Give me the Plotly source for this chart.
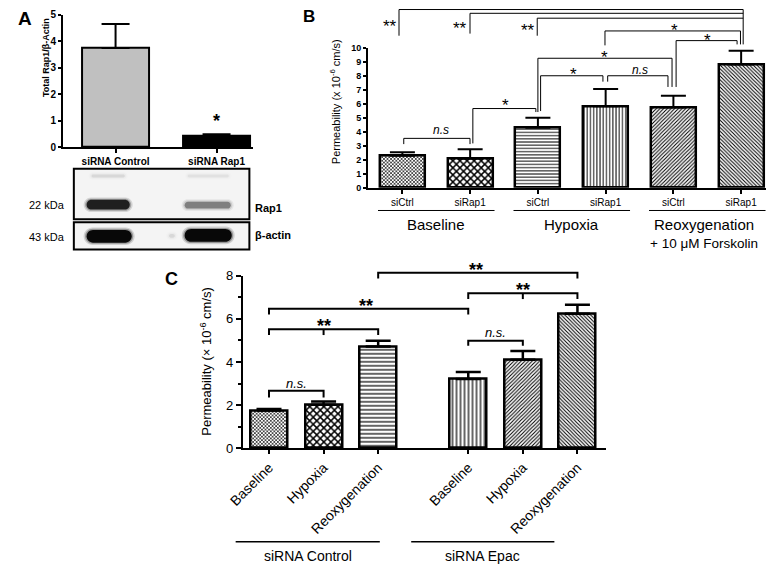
import plotly.graph_objects as go

W, H = 777, 575
FONT = "Arial, Liberation Sans, Helvetica, sans-serif"

# ---------------- data ----------------
# Panel A: Rap1 / beta-actin densitometry
a_categories = ["siRNA Control", "siRNA Rap1"]
a_values = [3.75, 0.43]
a_errors = [0.90, 0.06]
a_colors = ["#c0c0c0", "#000000"]
a_yticks = [0, 1, 2, 3, 4, 5]

# Panel B: permeability with forskolin
b_labels = ["siCtrl", "siRap1", "siCtrl", "siRap1", "siCtrl", "siRap1"]
b_values = [2.27, 2.07, 4.27, 5.82, 5.73, 8.79]
b_errors = [0.25, 0.67, 0.73, 1.23, 0.84, 0.98]
b_groups = ["Baseline", "Hypoxia", "Reoxygenation"]
b_group_note = "+ 10 \u03bcM Forskolin"
b_yticks = list(range(0, 11))

# Panel C: permeability siRNA Control vs siRNA Epac
c_labels = ["Baseline", "Hypoxia", "Reoxygenation", "Baseline", "Hypoxia", "Reoxygenation"]
c_values = [1.75, 2.02, 4.72, 3.21, 4.10, 6.24]
c_errors = [0.07, 0.15, 0.26, 0.32, 0.41, 0.42]
c_groups = ["siRNA Control", "siRNA Epac"]
c_yticks = [0, 2, 4, 6, 8]


# ---------------- frames ----------------
class Frame:
    def __init__(s, x_px, x_rng, y_px, y_rng):
        s.x_px, s.x_rng, s.y_px, s.y_rng = x_px, x_rng, y_px, y_rng

    def px(s, v):
        (a, b), (r0, r1) = s.x_px, s.x_rng
        return a + (v - r0) / (r1 - r0) * (b - a)

    def py(s, v):
        (a, b), (r0, r1) = s.y_px, s.y_rng
        return a + (v - r0) / (r1 - r0) * (b - a)

    def X(s, v):
        return s.px(v) / W

    def Y(s, v):
        return 1 - s.py(v) / H

    def xdom(s):
        return [s.x_px[0] / W, s.x_px[1] / W]

    def ydom(s):
        return [1 - s.y_px[0] / H, 1 - s.y_px[1] / H]


FA = Frame((49, 243), (-0.52, 1.364), (144, 8), (0, 5))
FB = Frame((360, 766), (-0.507, 5.37), (185.5, 41.7), (0, 10))
c_pos = [0, 1, 2, 3.65, 4.65, 5.65]
FC = Frame((232, 603), (-0.485, 6.18), (453, 276), (0, 8))

fig = go.Figure()

# ---------------- bars ----------------
fig.add_trace(go.Bar(
    x=[0, 1], y=a_values, width=0.67, xaxis="x", yaxis="y",
    marker=dict(color=a_colors, line=dict(color="black", width=2)),
    error_y=dict(type="data", symmetric=False, array=a_errors, arrayminus=[0, 0],
                 color="black", thickness=2, width=14),
))

PAT_SHAPES = ["x", "x", "-", "|", "/", "\\"]
fig.add_trace(go.Bar(
    x=list(range(6)), y=b_values, width=0.667, xaxis="x2", yaxis="y2",
    marker=dict(color="white", line=dict(color="black", width=2.5),
                pattern=dict(shape=PAT_SHAPES,
                             size=[2.5, 5, 3.2, 3.2, 2.6, 2.6],
                             solidity=[0.45, 0.5, 0.3, 0.3, 0.4, 0.4],
                             fgcolor="black", bgcolor="white", fillmode="replace")),
    error_y=dict(type="data", symmetric=False, array=b_errors, arrayminus=[0] * 6,
                 color="black", thickness=2, width=12.5),
))

fig.add_trace(go.Bar(
    x=c_pos, y=c_values, width=0.68, xaxis="x3", yaxis="y3",
    marker=dict(color="white", line=dict(color="black", width=2.5),
                pattern=dict(shape=PAT_SHAPES,
                             size=[2.5, 5, 4, 4, 2.6, 2.6],
                             solidity=[0.45, 0.5, 0.3, 0.3, 0.4, 0.4],
                             fgcolor="black", bgcolor="white", fillmode="replace")),
    error_y=dict(type="data", symmetric=False, array=c_errors, arrayminus=[0] * 6,
                 color="black", thickness=2.5, width=12.5),
))

# ---------------- axes ----------------
def xax(frame, anchor, tickvals, ticktext, font, lw=2, angle=None):
    d = dict(domain=frame.xdom(), range=list(frame.x_rng), anchor=anchor,
             showline=True, linecolor="black", linewidth=lw, ticks="outside",
             ticklen=4, tickwidth=lw, tickcolor="black", tickvals=tickvals,
             ticktext=ticktext, tickfont=font, showgrid=False, zeroline=False,
             fixedrange=True)
    if angle is not None:
        d["tickangle"] = angle
    return d


def yax(frame, anchor, tickvals, font, lw=2, ticklen=4, minor=None):
    d = dict(domain=frame.ydom(), range=list(frame.y_rng), anchor=anchor,
             showline=True, linecolor="black", linewidth=lw, ticks="outside",
             ticklen=ticklen, tickwidth=lw, tickcolor="black", tickvals=tickvals,
             tickfont=font, showgrid=False, zeroline=False, fixedrange=True)
    if minor:
        d["minor"] = minor
    return d


boldsmall = dict(family=FONT, size=10, color="black", weight="bold")
fig.update_layout(
    xaxis=xax(FA, "y", [0, 1], a_categories, boldsmall),
    yaxis=yax(FA, "x", a_yticks, boldsmall, ticklen=3),
    xaxis2=xax(FB, "y2", list(range(6)), b_labels, dict(family=FONT, size=10, color="black")),
    yaxis2=yax(FB, "x2", b_yticks, dict(family=FONT, size=9, color="black", weight="bold"), ticklen=3),
    xaxis3=xax(FC, "y3", c_pos, c_labels, dict(family=FONT, size=14, color="black"), lw=1.5, angle=-45),
    yaxis3=yax(FC, "x3", c_yticks, dict(family=FONT, size=13, color="black"), lw=1.5, ticklen=5,
               minor=dict(dtick=1, tick0=0, ticks="outside", ticklen=3, tickwidth=1.5, tickcolor="black")),
)

shapes = []
annots = []


def P(xpx, ypx):
    return xpx / W, 1 - ypx / H


def text(xpx, ypx, s, size, bold=False, italic=False, xanchor="center", yanchor="middle", angle=0):
    f = dict(family=FONT, size=size, color="black")
    if bold:
        f["weight"] = "bold"
    if italic:
        f["style"] = "italic"
    x, y = P(xpx, ypx)
    annots.append(dict(x=x, y=y, xref="paper", yref="paper", text=s, showarrow=False,
                       font=f, xanchor=xanchor, yanchor=yanchor, textangle=angle))


def ftext(frame, x, y, s, size, **kw):
    text(frame.px(x), frame.py(y), s, size, **kw)


def bracket(frame, pts, width):
    p = ""
    for i, (x, y) in enumerate(pts):
        X, Y = frame.X(x), frame.Y(y)
        p += ("M" if i == 0 else "L") + f"{X:.5f},{Y:.5f} "
    shapes.append(dict(type="path", path=p.strip(), xref="paper", yref="paper",
                       line=dict(color="black", width=width)))


def hline(frame, x0, x1, y, width):
    bracket(frame, [(x0, y), (x1, y)], width)


# ---------------- panel labels ----------------
text(10, 12, "A", 19, bold=True)
text(300, 10, "B", 17, bold=True)
text(160, 279, "C", 18, bold=True)

# ---------------- panel A extras ----------------
text(31, 52, "Total Rap1/\u03b2-Actin", 9, bold=True, angle=-90)
ftext(FA, 1, 1.0, "*", 18, bold=True)

# western blot boxes
for (y0, y1) in [(166, 218), (221, 249)]:
    x0, yy0 = P(60, y0)
    x1, yy1 = P(239, y1)
    shapes.append(dict(type="rect", xref="paper", yref="paper", x0=x0, x1=x1, y0=yy1, y1=yy0,
                       line=dict(color="black", width=2), fillcolor="#f4f4f4", layer="below"))


def stadium(x0, x1, y0, y1, color, op):
    r = (y1 - y0) / 2
    k = 0.55 * r
    ym = (y0 + y1) / 2
    pts = [("M", [(x0 + r, y0)]), ("L", [(x1 - r, y0)]),
           ("C", [(x1 - r + k, y0), (x1, ym - k), (x1, ym)]),
           ("C", [(x1, ym + k), (x1 - r + k, y1), (x1 - r, y1)]),
           ("L", [(x0 + r, y1)]),
           ("C", [(x0 + r - k, y1), (x0, ym + k), (x0, ym)]),
           ("C", [(x0, ym - k), (x0 + r - k, y0), (x0 + r, y0)])]
    path = ""
    for cmd, ps in pts:
        path += cmd + " ".join(f"{P(a, b)[0]:.5f},{P(a, b)[1]:.5f}" for a, b in ps) + " "
    shapes.append(dict(type="path", path=path + "Z", xref="paper", yref="paper",
                       fillcolor=color, opacity=op, line=dict(width=0)))


def band(x0, x1, y0, y1, color, op):
    stadium(x0 - 3, x1 + 3, y0 - 2.5, y1 + 2.5, color, op * 0.15)
    stadium(x0 - 1.5, x1 + 1.5, y0 - 1.2, y1 + 1.2, color, op * 0.3)
    stadium(x0, x1, y0, y1, color, op)


band(78, 112, 172, 175, "#000000", 0.08)
band(176, 218, 172, 175, "#000000", 0.05)
band(73, 117, 198, 208, "#111111", 0.9)
band(173, 220, 200, 207, "#333333", 0.5)
band(73, 119, 229, 242, "#000000", 0.95)
band(173, 221, 228, 241, "#000000", 0.95)
band(157, 163, 233, 237, "#000000", 0.08)

text(53, 203, "22 kDa", 11, xanchor="right")
text(53, 236, "43 kDa", 11, xanchor="right")
text(243, 206, "Rap1", 11, bold=True, xanchor="left")
text(243, 234, "\u03b2-actin", 11, bold=True, xanchor="left")

# ---------------- panel B extras ----------------
text(327, 97, "Permeability (x 10<sup>-6</sup> cm/s)", 11, angle=-90)

bw = 1
bracket(FB, [(-0.05, 10.85), (-0.05, 12.72), (5.03, 12.72), (5.03, 10.23)], bw)
bracket(FB, [(0.998, 11.0), (0.998, 12.45), (5.03, 12.45)], bw)
bracket(FB, [(1.99, 10.85), (1.99, 12.1), (5.03, 12.1)], bw)
bracket(FB, [(2.99, 10.16), (2.99, 11.19), (4.99, 11.19), (4.99, 10.23)], bw)
bracket(FB, [(4.04, 7.19), (4.04, 10.5), (4.94, 10.5), (4.94, 10.23)], bw)
bracket(FB, [(2.0, 5.4), (2.0, 9.24), (3.98, 9.24), (3.98, 7.19)], bw)
bracket(FB, [(2.04, 5.47), (2.04, 7.99), (2.96, 7.99), (2.96, 7.57)], bw)
bracket(FB, [(3.03, 7.57), (3.03, 7.99), (3.92, 7.99), (3.92, 7.19)], bw)
bracket(FB, [(1.04, 3.16), (1.04, 5.65), (1.97, 5.65), (1.97, 5.4)], bw)
bracket(FB, [(0.02, 3.11), (0.02, 3.52), (0.998, 3.52), (0.998, 3.11)], bw)

STAR_DY = 4  # px shift so glyph centre lands on target
for (x, y, s) in [(-0.19, 11.76, "**"), (0.85, 11.65, "**"), (1.86, 11.53, "**"),
                  (4.01, 11.49, "*"), (4.51, 10.78, "*"), (2.99, 9.59, "*"),
                  (2.53, 8.33, "*"), (1.52, 6.16, "*")]:
    text(FB.px(x), FB.py(y) + STAR_DY, s, 17)
ftext(FB, 3.51, 8.40, "n.s", 12, italic=True)
ftext(FB, 0.57, 4.14, "n.s", 12, italic=True)

for g, name in enumerate(b_groups):
    hline(FB, 2 * g - 0.36, 2 * g + 1.36, -1.63, 1)
    ftext(FB, 2 * g + 0.5 - (0.05 if g == 2 else 0), -2.64, name, 15)
ftext(FB, 4.45, -4.0, b_group_note, 13.5)

# ---------------- panel C extras ----------------
text(194, 364, "Permeability (\u00d7 10<sup>-6</sup> cm/s)", 13, angle=-90)

cw = 2
bracket(FC, [(0, 2.35), (0, 2.67), (1, 2.67), (1, 2.35)], cw)
bracket(FC, [(0, 5.25), (0, 5.52), (2, 5.52), (2, 5.25)], cw)
bracket(FC, [(1, 5.52), (1, 5.25)], cw)
bracket(FC, [(0, 6.2), (0, 6.47), (3.65, 6.47), (3.65, 6.2)], cw)
bracket(FC, [(2, 7.87), (2, 8.14), (5.65, 8.14), (5.65, 7.87)], cw)
bracket(FC, [(3.65, 6.92), (3.65, 7.19), (5.65, 7.19), (5.65, 6.92)], cw)
bracket(FC, [(4.65, 7.19), (4.65, 6.92)], cw)
bracket(FC, [(3.65, 4.75), (3.65, 4.98), (4.65, 4.98), (4.65, 4.75)], cw)

for (x, y) in [(1, 5.88), (1.78, 6.83), (3.79, 8.5), (4.65, 7.56)]:
    text(FC.px(x), FC.py(y) + 5, "**", 18, bold=True)
ftext(FC, 0.5, 2.99, "n.s.", 13, italic=True)
ftext(FC, 4.15, 5.38, "n.s.", 13, italic=True)

# group lines (pixel rows under the rotated labels)
for (x0, x1, name) in [(225, 372, c_groups[0]), (404, 550, c_groups[1])]:
    a0, b0 = P(x0, 549)
    a1, _ = P(x1, 549)
    shapes.append(dict(type="line", xref="paper", yref="paper", x0=a0, x1=a1, y0=b0, y1=b0,
                       line=dict(color="black", width=1.5)))
    text((x0 + x1) / 2, 564, name, 14)

fig.update_layout(
    width=W, height=H, margin=dict(l=0, r=0, t=0, b=0),
    paper_bgcolor="white", plot_bgcolor="white", showlegend=False,
    font=dict(family=FONT, color="black"),
    shapes=shapes, annotations=annots, bargap=0,
)

fig.write_html("out.html", config={"displayModeBar": False},
               post_script="document.body.style.margin='0px';")
